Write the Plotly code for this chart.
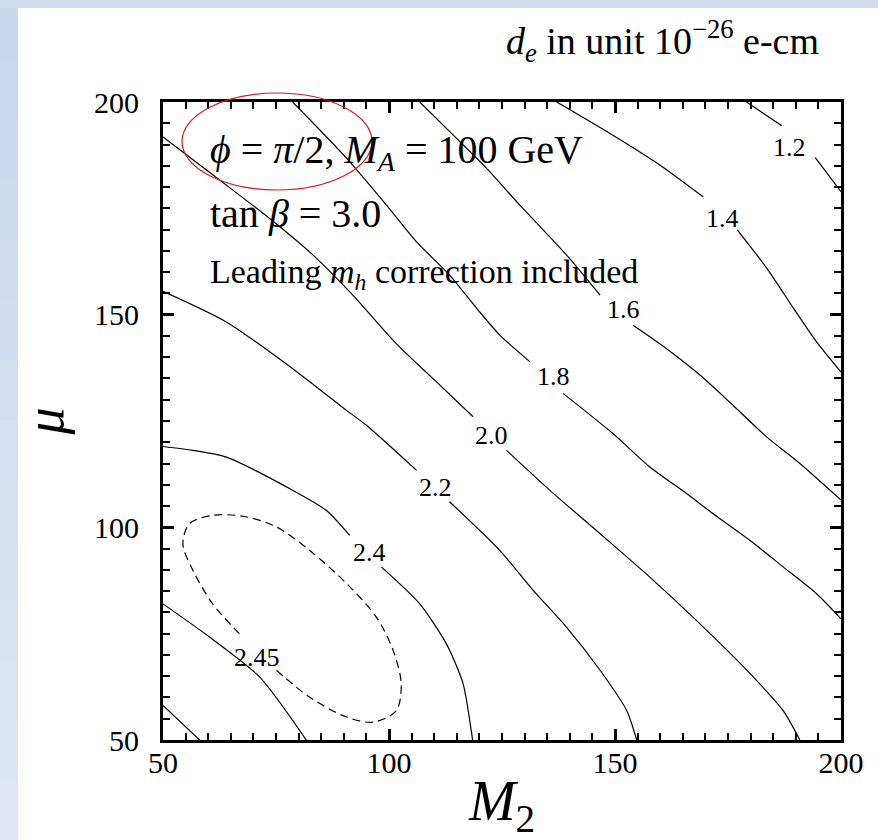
import plotly.graph_objects as go

# ---------------- data ----------------
# contour lines of d_e (M2 on x, mu on y); None marks the gap left for a label
c12_m2 = [179.1, 186.9, None, 194.3, 200.0]
c12_mu = [200.0, 194.4, None, 186.9, 178.9]

c14_m2 = [137.1, 148.9, 159.9, 169.5, None, 177.1, 183.6, 189.5, 194.6, 200.0]
c14_mu = [200.0, 192.6, 185.2, 177.7, None, 169.9, 160.9, 151.5, 143.6, 136.5]

c16_m2 = [106.8, 114.9, 121.6, 128.9, 139.3, 146.7, None, 154.0, 161.4, 168.8, 176.1, 183.6, 190.9, 200.0]
c16_mu = [200.0, 191.5, 184.4, 175.8, 164.0, 154.6, None, 147.5, 142.0, 135.8, 128.7, 121.2, 115.0, 106.4]

c18_m2 = [78.7, 90.6, 99.4, 106.1, 113.4, 119.4, 124.5, 131.2, None,
          138.5, 149.6, 157.7, 165.9, 171.7, 179.9, 187.2, 194.6, 200.0]
c18_mu = [200.0, 186.8, 175.8, 167.1, 159.3, 151.5, 145.2, 138.9, None,
          131.5, 122.0, 114.2, 107.9, 103.2, 96.9, 90.7, 84.4, 78.5]

c20_m2 = [50.0, 62.1, 73.6, 83.2, 92.0, 101.6, 110.1, 118.6, None,
          126.0, 135.6, 146.7, 157.7, 168.8, 179.9, 187.2, 190.9]
c20_mu = [191.8, 182.0, 172.6, 164.0, 154.6, 143.2, 134.6, 126.0, None,
          118.1, 108.7, 98.5, 88.3, 77.3, 65.6, 56.9, 50.0]

c22_m2 = [50.0, 64.0, 78.7, 90.6, 95.0, 106.1, None, 113.4, 124.5, 131.9, 139.3, 146.7, 152.6, 154.8]
c22_mu = [155.5, 148.3, 137.3, 127.5, 124.0, 113.4, None, 106.0, 94.6, 85.2, 76.5, 66.4, 56.9, 50.0]

c24_m2 = [50.0, 56.6, 64.0, 78.7, 86.1, 91.3, None, 98.3, 106.8, 112.7, 116.4, 118.2, 118.5]
c24_mu = [119.0, 118.1, 116.5, 108.7, 104.0, 98.1, None, 90.7, 82.0, 72.6, 63.2, 52.2, 50.0]

# closed dashed 2.45 contour (open where its label sits)
c245_m2 = [75.1, 82.4, 90.6, 96.5, 101.6, 102.7, 100.9, 97.2, 90.6, 82.4, 75.1,
           67.7, 61.0, 55.9, 54.4, 56.6, 61.0, 66.9]
c245_mu = [66.4, 60.1, 55.4, 54.2, 56.9, 63.2, 71.1, 78.9, 86.8, 94.6, 100.1,
           102.6, 102.8, 100.9, 96.2, 89.9, 82.0, 75.0]

# unlabeled lines in the lower-left corner
cll1_m2 = [50.0, 60.3, 71.4, 81.7]
cll1_mu = [82.0, 74.2, 64.8, 50.0]
cll2_m2 = [50.0, 58.1]
cll2_mu = [58.1, 50.0]

label_text = ["1.2", "1.4", "1.6", "1.8", "2.0", "2.2", "2.4", "2.45"]
label_m2 = [188.7, 173.8, 151.8, 136.3, 122.6, 110.3, 95.7, 70.8]
label_mu = [189.2, 172.6, 151.1, 135.4, 121.6, 109.3, 94.0, 69.3]

x_ticks = [50, 100, 150, 200]
x_tick_text = ["50", "100", "150", "200"]
y_ticks = [50, 100, 150, 200]
y_tick_text = ["50", "100", "150", "200"]

# ---------------- layout geometry / styles ----------------
W, H = 878, 840
ML, MR, MT, MB = 163, 37, 102, 100
PW, PH = W - ML - MR, H - MT - MB
SERIF = "Liberation Serif"


def px_x(px):
    return (px - ML) / PW


def px_y(py):
    return (H - MB - py) / PH


fig = go.Figure()

solid = dict(color="black", width=1.2, shape="spline", smoothing=0.7)
for xs, ys in [(c12_m2, c12_mu), (c14_m2, c14_mu), (c16_m2, c16_mu), (c18_m2, c18_mu),
               (c20_m2, c20_mu), (c22_m2, c22_mu), (c24_m2, c24_mu),
               (cll1_m2, cll1_mu), (cll2_m2, cll2_mu)]:
    fig.add_trace(go.Scatter(x=xs, y=ys, mode="lines", line=solid,
                             showlegend=False, hoverinfo="skip"))

fig.add_trace(go.Scatter(x=c245_m2, y=c245_mu, mode="lines",
                         line=dict(color="black", width=1.2, dash="8px,5px",
                                   shape="spline", smoothing=0.9),
                         showlegend=False, hoverinfo="skip"))

annotations = []
for t, xm, ym in zip(label_text, label_m2, label_mu):
    annotations.append(dict(x=xm, y=ym, xref="x", yref="y", text=t, showarrow=False,
                            xanchor="center", yanchor="middle",
                            font=dict(family=SERIF, size=26, color="black")))

annotations += [
    dict(x=59.9, y=188.2, xref="x", yref="y", xanchor="left", yanchor="middle",
         showarrow=False,
         text="<i>ϕ</i> = <i>π</i>/2, <i>M</i><sub><i>A</i></sub> = 100 GeV",
         font=dict(family=SERIF, size=40, color="black")),
    dict(x=59.9, y=173.9, xref="x", yref="y", xanchor="left", yanchor="middle",
         showarrow=False,
         text="tan <i>β</i> = 3.0",
         font=dict(family=SERIF, size=40, color="black")),
    dict(x=59.9, y=159.5, xref="x", yref="y", xanchor="left", yanchor="middle",
         showarrow=False,
         text="Leading <i>m</i><sub><i>h</i></sub> correction included",
         font=dict(family=SERIF, size=34, color="black")),
    dict(x=px_x(821), y=px_y(41), xref="paper", yref="paper", xanchor="right",
         yanchor="middle", showarrow=False,
         text="<i>d</i><sub><i>e</i></sub> in unit 10<sup>−26</sup> e-cm",
         font=dict(family=SERIF, size=38, color="black")),
]

shapes = []
# light-blue frame strips (left strip has a soft vertical gradient)
n_band = 14
c_top = (200, 216, 238)
c_bot = (222, 230, 243)
for i in range(n_band):
    f = i / (n_band - 1)
    col = "rgb(%d,%d,%d)" % tuple(round(a + (b - a) * f) for a, b in zip(c_top, c_bot))
    y0 = H * i / n_band
    y1 = H * (i + 1) / n_band + 1
    shapes.append(dict(type="rect", xref="paper", yref="paper",
                       x0=px_x(0), x1=px_x(18), y0=px_y(y1), y1=px_y(y0),
                       fillcolor=col, line=dict(width=0), layer="below"))
shapes.append(dict(type="rect", xref="paper", yref="paper",
                   x0=px_x(0), x1=px_x(W), y0=px_y(8), y1=px_y(0),
                   fillcolor="rgb(205,220,239)", line=dict(width=0), layer="below"))
# red hand-drawn ellipse around the phase annotation
shapes.append(dict(type="circle", xref="paper", yref="paper",
                   x0=px_x(182), x1=px_x(372), y0=px_y(190), y1=px_y(93),
                   line=dict(color="rgb(210,30,30)", width=1.2), layer="above"))


def make_axis(vals, text, title, title_size, label_standoff, title_standoff):
    return dict(
        range=[50, 200], tickmode="array", tickvals=vals, ticktext=text,
        ticks="inside", ticklen=11, tickwidth=2.5, tickcolor="black",
        showline=True, linewidth=3, linecolor="black", mirror="allticks",
        showgrid=False, zeroline=False, ticklabelstandoff=label_standoff,
        tickfont=dict(family=SERIF, size=30, color="black"),
        minor=dict(dtick=5, ticks="inside", ticklen=7, tickwidth=1.5,
                   tickcolor="black", showgrid=False),
        title=dict(text=title, standoff=title_standoff,
                   font=dict(family=SERIF, size=title_size, color="black")),
    )


xaxis = make_axis(x_ticks, x_tick_text, "<i>M</i><sub>2</sub>", 56, -6, 8)
yaxis = make_axis(y_ticks, y_tick_text, "<i>μ</i>", 54, 15, 14)

fig.update_layout(
    width=W, height=H, autosize=False,
    margin=dict(l=ML, r=MR, t=MT, b=MB),
    paper_bgcolor="white", plot_bgcolor="white",
    xaxis=xaxis,
    yaxis=yaxis,
    annotations=annotations,
    shapes=shapes,
)

fig.write_html("out.html", config={"displayModeBar": False},
               post_script="document.body.style.margin='0';document.body.style.overflow='hidden';")
